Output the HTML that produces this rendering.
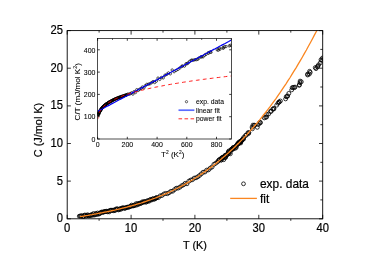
<!DOCTYPE html>
<html><head><meta charset="utf-8"><title>chart</title>
<style>html,body{margin:0;padding:0;background:#fff;}svg{display:block;will-change:transform;opacity:0.999;}</style></head>
<body>
<svg width="375" height="262" viewBox="0 0 375 262">
<rect width="375" height="262" fill="#fff"/>
<defs><clipPath id="cm"><rect x="67.2" y="30.6" width="255.5" height="188.2"/></clipPath>
<clipPath id="ci"><rect x="97.6" y="38.6" width="133.8" height="100.4"/></clipPath></defs>
<g clip-path="url(#cm)" fill="none" stroke="#000" stroke-width="0.8">
<circle cx="79.3" cy="216.2" r="1.95"/>
<circle cx="80.2" cy="216.1" r="1.95"/>
<circle cx="81.0" cy="216.0" r="1.95"/>
<circle cx="81.8" cy="215.7" r="1.95"/>
<circle cx="82.7" cy="216.9" r="1.95"/>
<circle cx="83.5" cy="216.8" r="1.95"/>
<circle cx="84.3" cy="215.2" r="1.95"/>
<circle cx="85.1" cy="215.1" r="1.95"/>
<circle cx="86.0" cy="216.2" r="1.95"/>
<circle cx="86.8" cy="215.4" r="1.95"/>
<circle cx="87.6" cy="214.8" r="1.95"/>
<circle cx="88.5" cy="215.8" r="1.95"/>
<circle cx="89.3" cy="215.7" r="1.95"/>
<circle cx="90.1" cy="215.2" r="1.95"/>
<circle cx="91.0" cy="215.5" r="1.95"/>
<circle cx="91.8" cy="214.4" r="1.95"/>
<circle cx="92.6" cy="215.2" r="1.95"/>
<circle cx="93.5" cy="213.6" r="1.95"/>
<circle cx="94.3" cy="215.0" r="1.95"/>
<circle cx="95.1" cy="214.8" r="1.95"/>
<circle cx="95.9" cy="213.4" r="1.95"/>
<circle cx="96.8" cy="214.4" r="1.95"/>
<circle cx="97.6" cy="213.0" r="1.95"/>
<circle cx="98.4" cy="214.2" r="1.95"/>
<circle cx="99.3" cy="213.7" r="1.95"/>
<circle cx="100.1" cy="213.3" r="1.95"/>
<circle cx="100.9" cy="212.3" r="1.95"/>
<circle cx="101.8" cy="212.0" r="1.95"/>
<circle cx="102.6" cy="212.5" r="1.95"/>
<circle cx="103.4" cy="211.9" r="1.95"/>
<circle cx="104.2" cy="211.9" r="1.95"/>
<circle cx="105.1" cy="211.3" r="1.95"/>
<circle cx="105.9" cy="211.6" r="1.95"/>
<circle cx="106.7" cy="211.2" r="1.95"/>
<circle cx="107.6" cy="211.8" r="1.95"/>
<circle cx="108.4" cy="211.1" r="1.95"/>
<circle cx="109.2" cy="211.9" r="1.95"/>
<circle cx="110.1" cy="210.4" r="1.95"/>
<circle cx="110.9" cy="210.2" r="1.95"/>
<circle cx="111.7" cy="210.3" r="1.95"/>
<circle cx="112.6" cy="210.3" r="1.95"/>
<circle cx="113.4" cy="210.7" r="1.95"/>
<circle cx="114.2" cy="209.9" r="1.95"/>
<circle cx="115.0" cy="210.6" r="1.95"/>
<circle cx="115.9" cy="209.2" r="1.95"/>
<circle cx="116.7" cy="208.8" r="1.95"/>
<circle cx="117.5" cy="209.0" r="1.95"/>
<circle cx="118.4" cy="209.9" r="1.95"/>
<circle cx="119.2" cy="209.6" r="1.95"/>
<circle cx="120.0" cy="208.6" r="1.95"/>
<circle cx="120.9" cy="209.3" r="1.95"/>
<circle cx="121.7" cy="208.2" r="1.95"/>
<circle cx="122.5" cy="208.0" r="1.95"/>
<circle cx="123.3" cy="207.8" r="1.95"/>
<circle cx="124.2" cy="208.1" r="1.95"/>
<circle cx="125.0" cy="208.4" r="1.95"/>
<circle cx="125.8" cy="207.7" r="1.95"/>
<circle cx="126.7" cy="207.4" r="1.95"/>
<circle cx="127.5" cy="207.1" r="1.95"/>
<circle cx="128.3" cy="207.3" r="1.95"/>
<circle cx="129.2" cy="207.0" r="1.95"/>
<circle cx="130.0" cy="206.5" r="1.95"/>
<circle cx="130.8" cy="206.4" r="1.95"/>
<circle cx="131.6" cy="205.1" r="1.95"/>
<circle cx="132.5" cy="205.8" r="1.95"/>
<circle cx="133.3" cy="205.9" r="1.95"/>
<circle cx="134.1" cy="205.7" r="1.95"/>
<circle cx="135.0" cy="205.1" r="1.95"/>
<circle cx="135.8" cy="203.8" r="1.95"/>
<circle cx="136.6" cy="205.1" r="1.95"/>
<circle cx="137.5" cy="203.5" r="1.95"/>
<circle cx="138.3" cy="204.5" r="1.95"/>
<circle cx="139.1" cy="203.5" r="1.95"/>
<circle cx="140.0" cy="203.1" r="1.95"/>
<circle cx="140.8" cy="203.5" r="1.95"/>
<circle cx="141.6" cy="202.8" r="1.95"/>
<circle cx="142.4" cy="201.8" r="1.95"/>
<circle cx="143.3" cy="202.5" r="1.95"/>
<circle cx="144.1" cy="201.7" r="1.95"/>
<circle cx="144.9" cy="201.5" r="1.95"/>
<circle cx="145.8" cy="202.2" r="1.95"/>
<circle cx="146.6" cy="201.8" r="1.95"/>
<circle cx="147.4" cy="200.7" r="1.95"/>
<circle cx="148.3" cy="200.8" r="1.95"/>
<circle cx="149.1" cy="201.2" r="1.95"/>
<circle cx="149.9" cy="199.9" r="1.95"/>
<circle cx="150.7" cy="199.4" r="1.95"/>
<circle cx="151.6" cy="200.0" r="1.95"/>
<circle cx="152.4" cy="199.1" r="1.95"/>
<circle cx="153.2" cy="198.6" r="1.95"/>
<circle cx="154.1" cy="199.3" r="1.95"/>
<circle cx="154.9" cy="198.8" r="1.95"/>
<circle cx="155.7" cy="198.1" r="1.95"/>
<circle cx="156.6" cy="197.7" r="1.95"/>
<circle cx="156.6" cy="197.8" r="1.95"/>
<circle cx="158.4" cy="197.6" r="1.95"/>
<circle cx="160.2" cy="195.8" r="1.95"/>
<circle cx="162.0" cy="195.5" r="1.95"/>
<circle cx="163.8" cy="194.0" r="1.95"/>
<circle cx="165.6" cy="193.4" r="1.95"/>
<circle cx="167.4" cy="193.7" r="1.95"/>
<circle cx="169.1" cy="192.7" r="1.95"/>
<circle cx="170.9" cy="191.3" r="1.95"/>
<circle cx="172.7" cy="191.2" r="1.95"/>
<circle cx="174.5" cy="189.6" r="1.95"/>
<circle cx="176.3" cy="188.2" r="1.95"/>
<circle cx="178.1" cy="188.1" r="1.95"/>
<circle cx="179.9" cy="187.2" r="1.95"/>
<circle cx="181.7" cy="185.7" r="1.95"/>
<circle cx="183.5" cy="184.9" r="1.95"/>
<circle cx="185.2" cy="183.3" r="1.95"/>
<circle cx="187.0" cy="183.8" r="1.95"/>
<circle cx="188.8" cy="181.2" r="1.95"/>
<circle cx="190.6" cy="180.1" r="1.95"/>
<circle cx="192.4" cy="179.7" r="1.95"/>
<circle cx="194.2" cy="178.1" r="1.95"/>
<circle cx="196.0" cy="177.8" r="1.95"/>
<circle cx="197.8" cy="176.8" r="1.95"/>
<circle cx="199.5" cy="175.5" r="1.95"/>
<circle cx="201.3" cy="173.9" r="1.95"/>
<circle cx="203.1" cy="172.2" r="1.95"/>
<circle cx="204.9" cy="172.0" r="1.95"/>
<circle cx="206.7" cy="170.1" r="1.95"/>
<circle cx="208.5" cy="169.9" r="1.95"/>
<circle cx="210.3" cy="168.1" r="1.95"/>
<circle cx="212.1" cy="167.0" r="1.95"/>
<circle cx="213.9" cy="164.3" r="1.95"/>
<circle cx="215.6" cy="163.3" r="1.95"/>
<circle cx="217.4" cy="162.0" r="1.95"/>
<circle cx="218.3" cy="160.8" r="1.95"/>
<circle cx="219.2" cy="159.8" r="1.95"/>
<circle cx="219.4" cy="159.7" r="1.95"/>
<circle cx="220.9" cy="158.8" r="1.95"/>
<circle cx="221.0" cy="160.2" r="1.95"/>
<circle cx="221.4" cy="159.9" r="1.95"/>
<circle cx="222.7" cy="157.8" r="1.95"/>
<circle cx="221.5" cy="158.1" r="1.95"/>
<circle cx="222.3" cy="157.4" r="1.95"/>
<circle cx="222.7" cy="157.6" r="1.95"/>
<circle cx="223.7" cy="159.7" r="1.95"/>
<circle cx="224.6" cy="155.9" r="1.95"/>
<circle cx="225.2" cy="155.4" r="1.95"/>
<circle cx="225.4" cy="157.6" r="1.95"/>
<circle cx="224.8" cy="157.3" r="1.95"/>
<circle cx="225.6" cy="156.9" r="1.95"/>
<circle cx="226.0" cy="155.1" r="1.95"/>
<circle cx="226.7" cy="155.2" r="1.95"/>
<circle cx="228.2" cy="152.5" r="1.95"/>
<circle cx="227.3" cy="154.6" r="1.95"/>
<circle cx="228.9" cy="153.5" r="1.95"/>
<circle cx="228.4" cy="152.7" r="1.95"/>
<circle cx="228.9" cy="150.9" r="1.95"/>
<circle cx="228.7" cy="151.5" r="1.95"/>
<circle cx="230.3" cy="153.8" r="1.95"/>
<circle cx="230.3" cy="151.7" r="1.95"/>
<circle cx="231.4" cy="149.3" r="1.95"/>
<circle cx="232.5" cy="148.8" r="1.95"/>
<circle cx="231.3" cy="149.6" r="1.95"/>
<circle cx="232.2" cy="149.4" r="1.95"/>
<circle cx="233.1" cy="147.7" r="1.95"/>
<circle cx="233.2" cy="147.6" r="1.95"/>
<circle cx="233.3" cy="149.0" r="1.95"/>
<circle cx="234.5" cy="147.3" r="1.95"/>
<circle cx="235.4" cy="148.2" r="1.95"/>
<circle cx="235.5" cy="146.4" r="1.95"/>
<circle cx="236.3" cy="147.3" r="1.95"/>
<circle cx="236.4" cy="145.5" r="1.95"/>
<circle cx="237.5" cy="144.4" r="1.95"/>
<circle cx="237.9" cy="143.4" r="1.95"/>
<circle cx="238.7" cy="143.3" r="1.95"/>
<circle cx="238.7" cy="143.1" r="1.95"/>
<circle cx="237.7" cy="144.0" r="1.95"/>
<circle cx="238.1" cy="143.7" r="1.95"/>
<circle cx="239.1" cy="141.9" r="1.95"/>
<circle cx="240.0" cy="142.4" r="1.95"/>
<circle cx="240.7" cy="143.0" r="1.95"/>
<circle cx="241.1" cy="141.1" r="1.95"/>
<circle cx="241.6" cy="140.8" r="1.95"/>
<circle cx="240.4" cy="141.7" r="1.95"/>
<circle cx="240.0" cy="142.2" r="1.95"/>
<circle cx="241.4" cy="140.7" r="1.95"/>
<circle cx="242.4" cy="139.7" r="1.95"/>
<circle cx="242.9" cy="138.8" r="1.95"/>
<circle cx="243.6" cy="139.0" r="1.95"/>
<circle cx="243.8" cy="137.3" r="1.95"/>
<circle cx="245.5" cy="135.4" r="1.95"/>
<circle cx="246.4" cy="135.1" r="1.95"/>
<circle cx="247.9" cy="132.8" r="1.95"/>
<circle cx="248.6" cy="133.5" r="1.95"/>
<circle cx="248.9" cy="132.5" r="1.95"/>
<circle cx="252.1" cy="127.1" r="1.95"/>
<circle cx="252.4" cy="128.8" r="1.95"/>
<circle cx="253.0" cy="125.1" r="1.95"/>
<circle cx="254.3" cy="125.4" r="1.95"/>
<circle cx="254.7" cy="125.2" r="1.95"/>
<circle cx="257.3" cy="127.3" r="1.95"/>
<circle cx="258.3" cy="124.5" r="1.95"/>
<circle cx="259.2" cy="123.3" r="1.95"/>
<circle cx="260.0" cy="122.3" r="1.95"/>
<circle cx="260.5" cy="122.7" r="1.95"/>
<circle cx="264.3" cy="117.9" r="1.95"/>
<circle cx="265.6" cy="117.3" r="1.95"/>
<circle cx="266.7" cy="114.5" r="1.95"/>
<circle cx="266.6" cy="117.0" r="1.95"/>
<circle cx="268.6" cy="114.0" r="1.95"/>
<circle cx="270.6" cy="111.4" r="1.95"/>
<circle cx="271.2" cy="111.3" r="1.95"/>
<circle cx="272.7" cy="109.2" r="1.95"/>
<circle cx="273.8" cy="108.3" r="1.95"/>
<circle cx="273.9" cy="108.9" r="1.95"/>
<circle cx="276.7" cy="105.2" r="1.95"/>
<circle cx="278.0" cy="103.2" r="1.95"/>
<circle cx="279.0" cy="102.0" r="1.95"/>
<circle cx="279.2" cy="102.1" r="1.95"/>
<circle cx="280.4" cy="101.0" r="1.95"/>
<circle cx="285.6" cy="98.9" r="1.95"/>
<circle cx="286.2" cy="96.7" r="1.95"/>
<circle cx="287.1" cy="96.5" r="1.95"/>
<circle cx="287.7" cy="95.9" r="1.95"/>
<circle cx="288.8" cy="93.4" r="1.95"/>
<circle cx="292.2" cy="87.7" r="1.95"/>
<circle cx="291.7" cy="89.9" r="1.95"/>
<circle cx="293.2" cy="87.4" r="1.95"/>
<circle cx="294.4" cy="87.6" r="1.95"/>
<circle cx="295.0" cy="87.1" r="1.95"/>
<circle cx="299.2" cy="85.3" r="1.95"/>
<circle cx="300.0" cy="82.7" r="1.95"/>
<circle cx="299.4" cy="84.8" r="1.95"/>
<circle cx="300.1" cy="81.1" r="1.95"/>
<circle cx="301.3" cy="81.8" r="1.95"/>
<circle cx="307.6" cy="74.1" r="1.95"/>
<circle cx="307.6" cy="75.0" r="1.95"/>
<circle cx="309.3" cy="74.1" r="1.95"/>
<circle cx="309.6" cy="71.3" r="1.95"/>
<circle cx="310.2" cy="72.4" r="1.95"/>
<circle cx="315.3" cy="67.6" r="1.95"/>
<circle cx="316.0" cy="68.6" r="1.95"/>
<circle cx="317.4" cy="66.9" r="1.95"/>
<circle cx="317.8" cy="66.2" r="1.95"/>
<circle cx="318.6" cy="64.8" r="1.95"/>
<circle cx="320.4" cy="62.7" r="1.95"/>
<circle cx="321.0" cy="59.7" r="1.95"/>
<circle cx="321.8" cy="60.5" r="1.95"/>
<circle cx="322.5" cy="58.0" r="1.95"/>
<circle cx="323.9" cy="58.6" r="1.95"/>
</g>
<polyline clip-path="url(#cm)" points="80.0,216.7 82.0,216.3 84.1,216.0 86.1,215.6 88.1,215.3 90.2,214.9 92.2,214.6 94.3,214.2 96.3,213.8 98.3,213.4 100.4,213.0 102.4,212.7 104.5,212.2 106.5,211.8 108.5,211.4 110.6,211.0 112.6,210.5 114.7,210.1 116.7,209.6 118.7,209.1 120.8,208.6 122.8,208.1 124.8,207.6 126.9,207.1 128.9,206.5 131.0,206.0 133.0,205.4 135.0,204.8 137.1,204.2 139.1,203.6 141.2,203.0 143.2,202.3 145.2,201.6 147.3,200.9 149.3,200.2 151.4,199.5 153.4,198.7 155.4,198.0 157.5,197.2 159.5,196.4 161.6,195.5 163.6,194.7 165.6,193.8 167.7,192.9 169.7,192.0 171.8,191.0 173.8,190.0 175.8,189.0 177.9,188.0 179.9,186.9 182.0,185.8 184.0,184.7 186.0,183.6 188.1,182.4 190.1,181.2 192.2,180.0 194.2,178.8 196.2,177.5 198.3,176.2 200.3,174.8 202.4,173.4 204.4,172.0 206.4,170.6 208.5,169.1 210.5,167.6 212.6,166.1 214.6,164.5 216.6,162.9 218.7,161.2 220.7,159.6 222.8,157.8 224.8,156.1 226.8,154.3 228.9,152.5 230.9,150.6 233.0,148.7 235.0,146.7 237.0,144.7 239.1,142.7 241.1,140.6 243.2,138.5 245.2,136.4 247.2,134.2 249.3,131.9 251.3,129.7 253.4,127.3 255.4,125.0 257.4,122.6 259.5,120.1 261.5,117.6 263.5,115.0 265.6,112.5 267.6,109.8 269.7,107.1 271.7,104.4 273.7,101.6 275.8,98.8 277.8,95.9 279.9,92.9 281.9,89.9 283.9,86.9 286.0,83.8 288.0,80.7 290.1,77.5 292.1,74.2 294.1,70.9 296.2,67.6 298.2,64.2 300.3,60.7 302.3,57.2 304.3,53.6 306.4,50.0 308.4,46.3 310.5,42.5 312.5,38.7 314.5,34.9 316.6,31.0 318.6,27.0 320.7,22.9 322.7,18.8" fill="none" stroke="#fa8620" stroke-width="1.3"/>
<rect x="67.2" y="30.6" width="255.5" height="188.2" fill="none" stroke="#000" stroke-width="0.9"/>
<g stroke="#000" stroke-width="0.8">
<line x1="67.2" y1="218.8" x2="67.2" y2="214.8"/>
<line x1="67.2" y1="30.6" x2="67.2" y2="34.6"/>
<line x1="99.1" y1="218.8" x2="99.1" y2="220.8"/>
<line x1="99.1" y1="30.6" x2="99.1" y2="32.6"/>
<line x1="131.1" y1="218.8" x2="131.1" y2="214.8"/>
<line x1="131.1" y1="30.6" x2="131.1" y2="34.6"/>
<line x1="163.0" y1="218.8" x2="163.0" y2="220.8"/>
<line x1="163.0" y1="30.6" x2="163.0" y2="32.6"/>
<line x1="194.9" y1="218.8" x2="194.9" y2="214.8"/>
<line x1="194.9" y1="30.6" x2="194.9" y2="34.6"/>
<line x1="226.9" y1="218.8" x2="226.9" y2="220.8"/>
<line x1="226.9" y1="30.6" x2="226.9" y2="32.6"/>
<line x1="258.8" y1="218.8" x2="258.8" y2="214.8"/>
<line x1="258.8" y1="30.6" x2="258.8" y2="34.6"/>
<line x1="290.8" y1="218.8" x2="290.8" y2="220.8"/>
<line x1="290.8" y1="30.6" x2="290.8" y2="32.6"/>
<line x1="322.7" y1="218.8" x2="322.7" y2="214.8"/>
<line x1="322.7" y1="30.6" x2="322.7" y2="34.6"/>
<line x1="67.2" y1="218.8" x2="70.9" y2="218.8"/>
<line x1="322.7" y1="218.8" x2="319.0" y2="218.8"/>
<line x1="322.7" y1="199.9" x2="320.3" y2="199.9"/>
<line x1="67.2" y1="181.1" x2="70.9" y2="181.1"/>
<line x1="322.7" y1="181.1" x2="319.0" y2="181.1"/>
<line x1="322.7" y1="162.3" x2="320.3" y2="162.3"/>
<line x1="67.2" y1="143.5" x2="70.9" y2="143.5"/>
<line x1="322.7" y1="143.5" x2="319.0" y2="143.5"/>
<line x1="322.7" y1="124.7" x2="320.3" y2="124.7"/>
<line x1="67.2" y1="105.9" x2="70.9" y2="105.9"/>
<line x1="322.7" y1="105.9" x2="319.0" y2="105.9"/>
<line x1="322.7" y1="87.0" x2="320.3" y2="87.0"/>
<line x1="67.2" y1="68.2" x2="70.9" y2="68.2"/>
<line x1="322.7" y1="68.2" x2="319.0" y2="68.2"/>
<line x1="322.7" y1="49.4" x2="320.3" y2="49.4"/>
<line x1="67.2" y1="30.6" x2="70.9" y2="30.6"/>
<line x1="322.7" y1="30.6" x2="319.0" y2="30.6"/>
</g>
<g font-family="Liberation Sans, sans-serif" fill="#000" stroke="#000" stroke-width="0.2">
<text transform="translate(67.20,232.00) scale(0.935,1)" font-size="12.00" text-anchor="middle">0</text>
<text transform="translate(131.07,232.00) scale(0.935,1)" font-size="12.00" text-anchor="middle">10</text>
<text transform="translate(194.95,232.00) scale(0.935,1)" font-size="12.00" text-anchor="middle">20</text>
<text transform="translate(258.82,232.00) scale(0.935,1)" font-size="12.00" text-anchor="middle">30</text>
<text transform="translate(322.70,232.00) scale(0.935,1)" font-size="12.00" text-anchor="middle">40</text>
<text transform="translate(62.90,222.35) scale(0.935,1)" font-size="12.00" text-anchor="end">0</text>
<text transform="translate(62.90,184.72) scale(0.935,1)" font-size="12.00" text-anchor="end">5</text>
<text transform="translate(62.90,147.09) scale(0.935,1)" font-size="12.00" text-anchor="end">10</text>
<text transform="translate(62.90,109.46) scale(0.935,1)" font-size="12.00" text-anchor="end">15</text>
<text transform="translate(62.90,71.83) scale(0.935,1)" font-size="12.00" text-anchor="end">20</text>
<text transform="translate(62.90,34.20) scale(0.935,1)" font-size="12.00" text-anchor="end">25</text>
</g>
<g font-family="Liberation Sans, sans-serif" font-size="10.9" fill="#000" stroke="#000" stroke-width="0.2">
<text x="195" y="249" text-anchor="middle">T (K)</text>
<text transform="translate(41.5,130) rotate(-90)" text-anchor="middle">C (J/mol K)</text>
</g>
<circle cx="243.5" cy="183.8" r="1.9" fill="none" stroke="#000" stroke-width="0.8"/>
<line x1="230.2" y1="198.4" x2="256.9" y2="198.4" stroke="#fa8620" stroke-width="1.3"/>
<g font-family="Liberation Sans, sans-serif" fill="#000" stroke="#000" stroke-width="0.2">
<text transform="translate(260.00,188.10) scale(0.944,1)" font-size="12.60" text-anchor="start">exp. data</text>
<text transform="translate(260.00,202.80) scale(0.944,1)" font-size="12.60" text-anchor="start">fit</text>
</g>
<rect x="97.6" y="38.6" width="133.8" height="100.4" fill="#fff"/>
<g clip-path="url(#ci)" fill="none" stroke="#000" stroke-width="0.65">
<circle cx="98.1" cy="114.7" r="1.22"/>
<circle cx="98.2" cy="114.5" r="1.22"/>
<circle cx="98.3" cy="114.3" r="1.22"/>
<circle cx="98.4" cy="113.9" r="1.22"/>
<circle cx="98.5" cy="114.5" r="1.22"/>
<circle cx="98.6" cy="114.2" r="1.22"/>
<circle cx="98.7" cy="113.1" r="1.22"/>
<circle cx="98.8" cy="112.9" r="1.22"/>
<circle cx="98.9" cy="113.3" r="1.22"/>
<circle cx="99.0" cy="112.7" r="1.22"/>
<circle cx="99.1" cy="112.2" r="1.22"/>
<circle cx="99.2" cy="112.5" r="1.22"/>
<circle cx="99.4" cy="112.2" r="1.22"/>
<circle cx="99.5" cy="111.8" r="1.22"/>
<circle cx="99.7" cy="111.7" r="1.22"/>
<circle cx="99.8" cy="111.1" r="1.22"/>
<circle cx="100.0" cy="111.2" r="1.22"/>
<circle cx="100.1" cy="110.4" r="1.22"/>
<circle cx="100.3" cy="110.7" r="1.22"/>
<circle cx="100.4" cy="110.4" r="1.22"/>
<circle cx="100.6" cy="109.8" r="1.22"/>
<circle cx="100.8" cy="109.9" r="1.22"/>
<circle cx="101.0" cy="109.3" r="1.22"/>
<circle cx="101.2" cy="109.4" r="1.22"/>
<circle cx="101.3" cy="109.1" r="1.22"/>
<circle cx="101.5" cy="108.7" r="1.22"/>
<circle cx="101.7" cy="108.3" r="1.22"/>
<circle cx="102.0" cy="108.0" r="1.22"/>
<circle cx="102.2" cy="107.9" r="1.22"/>
<circle cx="102.4" cy="107.6" r="1.22"/>
<circle cx="102.6" cy="107.4" r="1.22"/>
<circle cx="102.8" cy="107.0" r="1.22"/>
<circle cx="103.1" cy="106.9" r="1.22"/>
<circle cx="103.3" cy="106.6" r="1.22"/>
<circle cx="103.5" cy="106.5" r="1.22"/>
<circle cx="103.8" cy="106.2" r="1.22"/>
<circle cx="104.0" cy="106.2" r="1.22"/>
<circle cx="104.3" cy="105.6" r="1.22"/>
<circle cx="104.6" cy="105.4" r="1.22"/>
<circle cx="104.8" cy="105.2" r="1.22"/>
<circle cx="105.1" cy="105.1" r="1.22"/>
<circle cx="105.4" cy="104.9" r="1.22"/>
<circle cx="105.7" cy="104.6" r="1.22"/>
<circle cx="105.9" cy="104.5" r="1.22"/>
<circle cx="106.2" cy="104.1" r="1.22"/>
<circle cx="106.5" cy="103.8" r="1.22"/>
<circle cx="106.8" cy="103.7" r="1.22"/>
<circle cx="107.1" cy="103.7" r="1.22"/>
<circle cx="107.5" cy="103.4" r="1.22"/>
<circle cx="107.8" cy="103.1" r="1.22"/>
<circle cx="108.1" cy="103.0" r="1.22"/>
<circle cx="108.4" cy="102.6" r="1.22"/>
<circle cx="108.7" cy="102.4" r="1.22"/>
<circle cx="109.1" cy="102.2" r="1.22"/>
<circle cx="109.4" cy="102.1" r="1.22"/>
<circle cx="109.8" cy="102.0" r="1.22"/>
<circle cx="110.1" cy="101.7" r="1.22"/>
<circle cx="110.5" cy="101.5" r="1.22"/>
<circle cx="110.8" cy="101.2" r="1.22"/>
<circle cx="111.2" cy="101.1" r="1.22"/>
<circle cx="111.6" cy="100.9" r="1.22"/>
<circle cx="112.0" cy="100.7" r="1.22"/>
<circle cx="112.3" cy="100.5" r="1.22"/>
<circle cx="112.7" cy="100.1" r="1.22"/>
<circle cx="113.1" cy="100.1" r="1.22"/>
<circle cx="113.5" cy="99.9" r="1.22"/>
<circle cx="113.9" cy="99.7" r="1.22"/>
<circle cx="114.3" cy="99.5" r="1.22"/>
<circle cx="114.7" cy="99.1" r="1.22"/>
<circle cx="115.2" cy="99.1" r="1.22"/>
<circle cx="115.6" cy="98.8" r="1.22"/>
<circle cx="116.0" cy="98.8" r="1.22"/>
<circle cx="116.4" cy="98.5" r="1.22"/>
<circle cx="116.9" cy="98.3" r="1.22"/>
<circle cx="117.3" cy="98.2" r="1.22"/>
<circle cx="117.8" cy="97.9" r="1.22"/>
<circle cx="118.2" cy="97.7" r="1.22"/>
<circle cx="118.7" cy="97.6" r="1.22"/>
<circle cx="119.2" cy="97.4" r="1.22"/>
<circle cx="119.6" cy="97.2" r="1.22"/>
<circle cx="120.1" cy="97.1" r="1.22"/>
<circle cx="120.6" cy="96.9" r="1.22"/>
<circle cx="121.1" cy="96.7" r="1.22"/>
<circle cx="121.5" cy="96.5" r="1.22"/>
<circle cx="122.0" cy="96.5" r="1.22"/>
<circle cx="122.5" cy="96.2" r="1.22"/>
<circle cx="123.0" cy="96.0" r="1.22"/>
<circle cx="123.5" cy="95.9" r="1.22"/>
<circle cx="124.1" cy="95.7" r="1.22"/>
<circle cx="124.6" cy="95.5" r="1.22"/>
<circle cx="125.1" cy="95.4" r="1.22"/>
<circle cx="125.6" cy="95.2" r="1.22"/>
<circle cx="126.2" cy="95.0" r="1.22"/>
<circle cx="126.7" cy="94.8" r="1.22"/>
<circle cx="126.7" cy="94.8" r="1.22"/>
<circle cx="127.9" cy="94.1" r="1.22"/>
<circle cx="129.1" cy="94.2" r="1.22"/>
<circle cx="130.3" cy="93.7" r="1.22"/>
<circle cx="131.6" cy="92.8" r="1.22"/>
<circle cx="132.9" cy="94.1" r="1.22"/>
<circle cx="134.2" cy="91.6" r="1.22"/>
<circle cx="135.5" cy="92.5" r="1.22"/>
<circle cx="136.8" cy="89.7" r="1.22"/>
<circle cx="138.2" cy="90.4" r="1.22"/>
<circle cx="139.6" cy="89.3" r="1.22"/>
<circle cx="141.0" cy="88.5" r="1.22"/>
<circle cx="142.4" cy="87.0" r="1.22"/>
<circle cx="143.9" cy="87.8" r="1.22"/>
<circle cx="145.3" cy="85.7" r="1.22"/>
<circle cx="146.8" cy="84.4" r="1.22"/>
<circle cx="148.4" cy="84.2" r="1.22"/>
<circle cx="149.9" cy="83.8" r="1.22"/>
<circle cx="151.5" cy="82.7" r="1.22"/>
<circle cx="153.1" cy="81.6" r="1.22"/>
<circle cx="154.7" cy="82.5" r="1.22"/>
<circle cx="156.4" cy="81.1" r="1.22"/>
<circle cx="158.0" cy="78.1" r="1.22"/>
<circle cx="159.7" cy="79.4" r="1.22"/>
<circle cx="161.4" cy="77.5" r="1.22"/>
<circle cx="163.2" cy="77.9" r="1.22"/>
<circle cx="164.9" cy="75.3" r="1.22"/>
<circle cx="166.7" cy="74.4" r="1.22"/>
<circle cx="168.5" cy="72.9" r="1.22"/>
<circle cx="170.3" cy="73.8" r="1.22"/>
<circle cx="172.2" cy="70.0" r="1.22"/>
<circle cx="174.1" cy="71.7" r="1.22"/>
<circle cx="176.0" cy="70.5" r="1.22"/>
<circle cx="177.9" cy="69.4" r="1.22"/>
<circle cx="179.8" cy="68.0" r="1.22"/>
<circle cx="181.7" cy="66.4" r="1.22"/>
<circle cx="182.6" cy="65.9" r="1.22"/>
<circle cx="184.4" cy="66.1" r="1.22"/>
<circle cx="186.0" cy="63.8" r="1.22"/>
<circle cx="186.9" cy="63.8" r="1.22"/>
<circle cx="188.1" cy="63.0" r="1.22"/>
<circle cx="189.5" cy="61.5" r="1.22"/>
<circle cx="191.1" cy="60.4" r="1.22"/>
<circle cx="192.0" cy="60.1" r="1.22"/>
<circle cx="193.5" cy="60.2" r="1.22"/>
<circle cx="195.0" cy="59.7" r="1.22"/>
<circle cx="196.4" cy="59.6" r="1.22"/>
<circle cx="197.7" cy="59.3" r="1.22"/>
<circle cx="198.9" cy="58.1" r="1.22"/>
<circle cx="200.9" cy="56.9" r="1.22"/>
<circle cx="201.8" cy="56.8" r="1.22"/>
<circle cx="203.1" cy="56.8" r="1.22"/>
<circle cx="204.7" cy="55.2" r="1.22"/>
<circle cx="205.9" cy="54.4" r="1.22"/>
<circle cx="208.4" cy="53.3" r="1.22"/>
<circle cx="208.3" cy="52.7" r="1.22"/>
<circle cx="210.4" cy="51.8" r="1.22"/>
<circle cx="211.0" cy="52.3" r="1.22"/>
<circle cx="217.2" cy="49.8" r="1.22"/>
<circle cx="218.3" cy="50.2" r="1.22"/>
<circle cx="219.4" cy="48.3" r="1.22"/>
<circle cx="220.0" cy="49.2" r="1.22"/>
<circle cx="223.0" cy="47.8" r="1.22"/>
<circle cx="223.3" cy="48.2" r="1.22"/>
<circle cx="224.4" cy="46.7" r="1.22"/>
<circle cx="225.9" cy="46.6" r="1.22"/>
<circle cx="229.2" cy="45.9" r="1.22"/>
<circle cx="230.4" cy="45.3" r="1.22"/>
<circle cx="231.8" cy="45.6" r="1.22"/>
</g>
<polyline clip-path="url(#ci)" points="97.6,111.3 99.0,110.6 100.3,109.9 101.7,109.2 103.0,108.5 104.4,107.7 105.7,107.0 107.1,106.3 108.4,105.6 109.8,104.9 111.1,104.1 112.5,103.4 113.8,102.7 115.2,102.0 116.5,101.3 117.9,100.5 119.2,99.8 120.6,99.1 121.9,98.4 123.3,97.7 124.6,96.9 126.0,96.2 127.3,95.5 128.7,94.8 130.0,94.1 131.4,93.3 132.7,92.6 134.1,91.9 135.4,91.2 136.8,90.5 138.1,89.7 139.5,89.0 140.8,88.3 142.2,87.6 143.6,86.9 144.9,86.1 146.3,85.4 147.6,84.7 149.0,84.0 150.3,83.3 151.7,82.5 153.0,81.8 154.4,81.1 155.7,80.4 157.1,79.7 158.4,78.9 159.8,78.2 161.1,77.5 162.5,76.8 163.8,76.1 165.2,75.3 166.5,74.6 167.9,73.9 169.2,73.2 170.6,72.5 171.9,71.7 173.3,71.0 174.6,70.3 176.0,69.6 177.3,68.9 178.7,68.1 180.0,67.4 181.4,66.7 182.7,66.0 184.1,65.3 185.4,64.5 186.8,63.8 188.2,63.1 189.5,62.4 190.9,61.7 192.2,60.9 193.6,60.2 194.9,59.5 196.3,58.8 197.6,58.1 199.0,57.3 200.3,56.6 201.7,55.9 203.0,55.2 204.4,54.5 205.7,53.7 207.1,53.0 208.4,52.3 209.8,51.6 211.1,50.9 212.5,50.1 213.8,49.4 215.2,48.7 216.5,48.0 217.9,47.3 219.2,46.5 220.6,45.8 221.9,45.1 223.3,44.4 224.6,43.7 226.0,42.9 227.3,42.2 228.7,41.5 230.0,40.8 231.4,40.1" fill="none" stroke="#0000f0" stroke-width="1.2"/>
<polyline clip-path="url(#ci)" points="97.8,119.1 97.9,117.8 98.1,116.8 98.2,116.1 98.4,115.4 98.5,114.8 98.7,114.3 98.8,113.9 99.0,113.5 99.1,113.1 99.3,112.7 99.4,112.4 99.6,112.0 99.7,111.7 99.8,111.4 100.0,111.2 100.1,110.9 100.3,110.6 100.4,110.4 100.6,110.1 100.7,109.9 100.9,109.7 101.0,109.5 101.2,109.3 101.3,109.1 101.5,108.9 101.6,108.7 101.8,108.5 101.9,108.3 102.1,108.1 102.2,107.9 103.7,106.4 105.1,105.1 106.6,103.9 108.0,102.9 109.5,102.0 110.9,101.1 112.4,100.3 113.8,99.6 115.3,98.9 116.7,98.3 118.2,97.6 119.6,97.0 121.1,96.5 122.5,95.9 124.0,95.4 125.4,94.9 126.9,94.4 128.3,94.0 129.8,93.5 131.2,93.1 132.7,92.7 134.1,92.2 135.6,91.8 137.0,91.5 138.5,91.1 139.9,90.7 141.4,90.3 142.9,90.0 144.3,89.6 145.8,89.3 147.2,89.0 148.7,88.6 150.1,88.3 151.6,88.0 153.0,87.7 154.5,87.4 155.9,87.1 157.4,86.8 158.8,86.5 160.3,86.2 161.7,86.0 163.2,85.7 164.6,85.4 166.1,85.1 167.5,84.9 169.0,84.6 170.4,84.4 171.9,84.1 173.3,83.9 174.8,83.6 176.2,83.4 177.7,83.2 179.1,82.9 180.6,82.7 182.0,82.5 183.5,82.2 184.9,82.0 186.4,81.8 187.9,81.6 189.3,81.4 190.8,81.1 192.2,80.9 193.7,80.7 195.1,80.5 196.6,80.3 198.0,80.1 199.5,79.9 200.9,79.7 202.4,79.5 203.8,79.3 205.3,79.1 206.7,78.9 208.2,78.7 209.6,78.5 211.1,78.4 212.5,78.2 214.0,78.0 215.4,77.8 216.9,77.6 218.3,77.5 219.8,77.3 221.2,77.1 222.7,76.9 224.1,76.8 225.6,76.6 227.0,76.4 228.5,76.2 229.9,76.1 231.4,75.9" fill="none" stroke="#f00" stroke-width="0.9" stroke-dasharray="3.7,3.3" stroke-dashoffset="0.7"/>
<rect x="97.6" y="38.6" width="133.8" height="100.4" fill="none" stroke="#000" stroke-width="0.7"/>
<g stroke="#000" stroke-width="0.75">
<line x1="97.6" y1="139.0" x2="97.6" y2="136.8"/>
<line x1="97.6" y1="38.6" x2="97.6" y2="40.8"/>
<line x1="112.5" y1="38.6" x2="112.5" y2="39.8"/>
<line x1="127.3" y1="139.0" x2="127.3" y2="136.8"/>
<line x1="127.3" y1="38.6" x2="127.3" y2="40.8"/>
<line x1="142.2" y1="38.6" x2="142.2" y2="39.8"/>
<line x1="157.1" y1="139.0" x2="157.1" y2="136.8"/>
<line x1="157.1" y1="38.6" x2="157.1" y2="40.8"/>
<line x1="171.9" y1="38.6" x2="171.9" y2="39.8"/>
<line x1="186.8" y1="139.0" x2="186.8" y2="136.8"/>
<line x1="186.8" y1="38.6" x2="186.8" y2="40.8"/>
<line x1="201.7" y1="38.6" x2="201.7" y2="39.8"/>
<line x1="216.5" y1="139.0" x2="216.5" y2="136.8"/>
<line x1="216.5" y1="38.6" x2="216.5" y2="40.8"/>
<line x1="231.4" y1="38.6" x2="231.4" y2="39.8"/>
<line x1="97.6" y1="139.0" x2="99.8" y2="139.0"/>
<line x1="231.4" y1="139.0" x2="229.2" y2="139.0"/>
<line x1="97.6" y1="116.7" x2="99.8" y2="116.7"/>
<line x1="231.4" y1="116.7" x2="229.2" y2="116.7"/>
<line x1="97.6" y1="94.4" x2="99.8" y2="94.4"/>
<line x1="231.4" y1="94.4" x2="229.2" y2="94.4"/>
<line x1="97.6" y1="72.1" x2="99.8" y2="72.1"/>
<line x1="231.4" y1="72.1" x2="229.2" y2="72.1"/>
<line x1="97.6" y1="49.8" x2="99.8" y2="49.8"/>
<line x1="231.4" y1="49.8" x2="229.2" y2="49.8"/>
</g>
<g font-family="Liberation Sans, sans-serif" fill="#000" stroke="#000" stroke-width="0.07">
<text transform="translate(97.60,147.00) scale(0.920,1)" font-size="7.60" text-anchor="middle">0</text>
<text transform="translate(127.33,147.00) scale(0.920,1)" font-size="7.60" text-anchor="middle">200</text>
<text transform="translate(157.07,147.00) scale(0.920,1)" font-size="7.60" text-anchor="middle">400</text>
<text transform="translate(186.80,147.00) scale(0.920,1)" font-size="7.60" text-anchor="middle">600</text>
<text transform="translate(216.53,147.00) scale(0.920,1)" font-size="7.60" text-anchor="middle">800</text>
<text transform="translate(95.50,141.75) scale(0.920,1)" font-size="7.60" text-anchor="end">0</text>
<text transform="translate(95.50,119.44) scale(0.920,1)" font-size="7.60" text-anchor="end">100</text>
<text transform="translate(95.50,97.13) scale(0.920,1)" font-size="7.60" text-anchor="end">200</text>
<text transform="translate(95.50,74.82) scale(0.920,1)" font-size="7.60" text-anchor="end">300</text>
<text transform="translate(95.50,52.51) scale(0.920,1)" font-size="7.60" text-anchor="end">400</text>
</g>
<g font-family="Liberation Sans, sans-serif" fill="#000" stroke="#000" stroke-width="0.07">
<g transform="translate(161.09,156.8)"><text x="0.00" y="0.00" font-size="8.0">T</text><text x="4.89" y="-3.20" font-size="4.9">2</text><text x="9.84" y="0.00" font-size="8.0">(K</text><text x="17.84" y="-3.20" font-size="4.9">2</text><text x="20.56" y="0.00" font-size="8.0">)</text></g>
<g transform="translate(80.1,120.40) rotate(-90)"><text x="0.00" y="0.00" font-size="8.1">C/T (mJ/mol K</text><text x="51.75" y="-3.10" font-size="5.3">2</text><text x="54.70" y="0.00" font-size="8.1">)</text></g>
</g>
<circle cx="186.5" cy="101.7" r="1.15" fill="none" stroke="#000" stroke-width="0.6"/>
<line x1="178.5" y1="110.2" x2="194.4" y2="110.2" stroke="#5c6cff" stroke-width="1.7"/>
<line x1="178.5" y1="118.8" x2="194.4" y2="118.8" stroke="#f00" stroke-width="0.85" stroke-dasharray="3.6,2.4"/>
<g font-family="Liberation Sans, sans-serif" fill="#000" stroke="#000" stroke-width="0.07">
<text transform="translate(196.00,104.30) scale(0.944,1)" font-size="7.20" text-anchor="start">exp. data</text>
<text transform="translate(196.00,112.60) scale(0.944,1)" font-size="7.20" text-anchor="start">linear fit</text>
<text transform="translate(196.00,121.10) scale(0.944,1)" font-size="7.20" text-anchor="start">power fit</text>
</g>
</svg>
</body></html>
